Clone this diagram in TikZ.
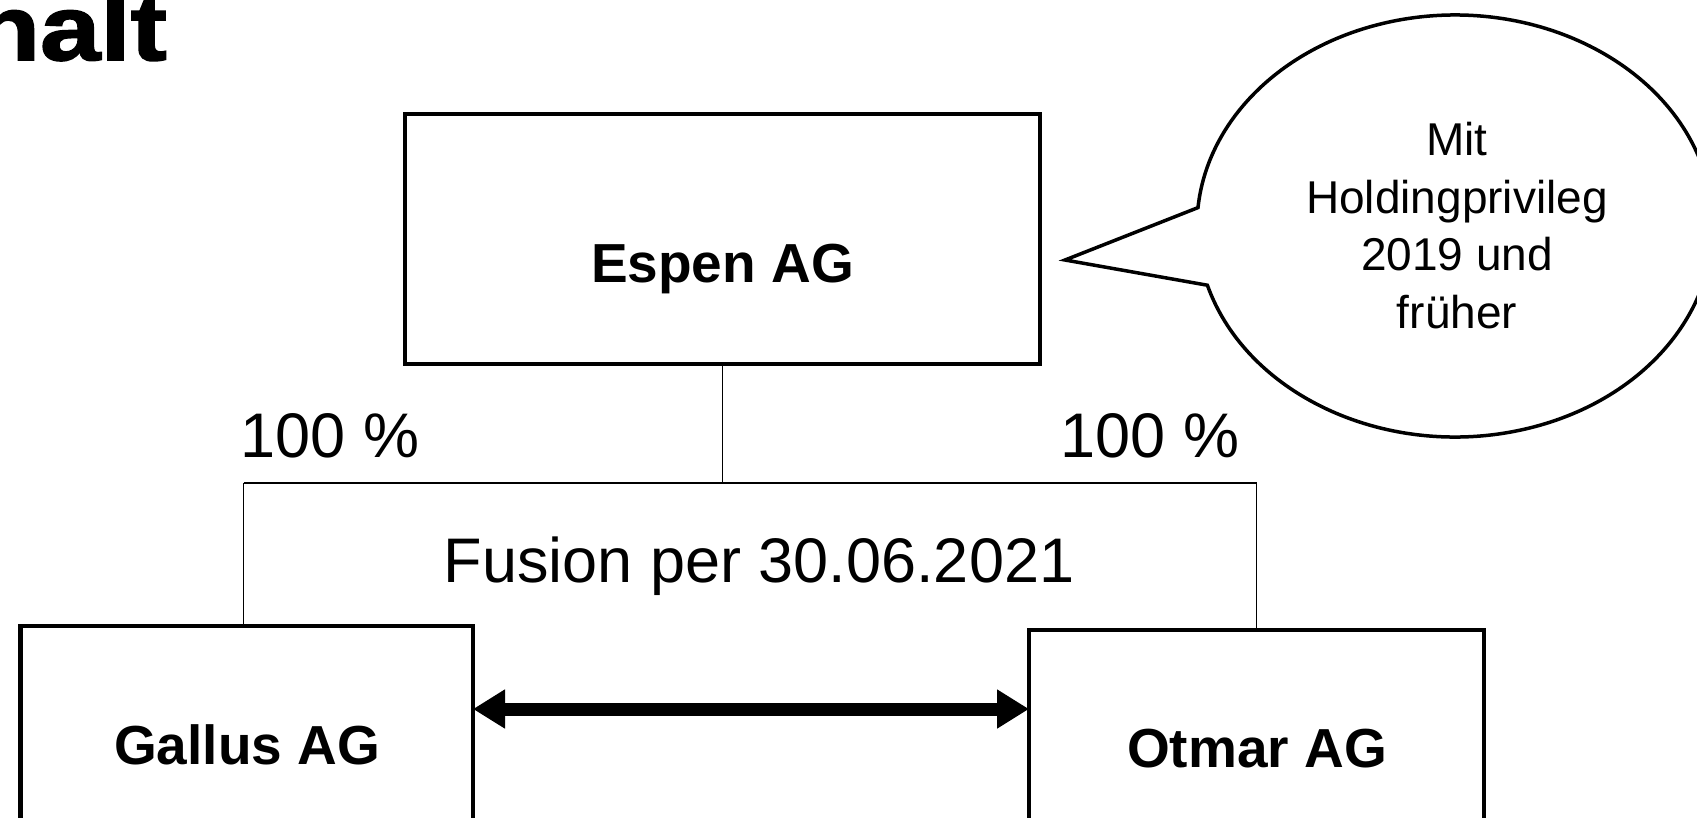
\documentclass[tikz,border=0pt]{standalone}
\usepackage{fontspec}
\setmainfont{Liberation Sans}
\newfontfamily\titlefont{Liberation Sans}[FakeStretch=1.18,FakeBold=2]
\usetikzlibrary{arrows.meta,calc}
\begin{document}
\begin{tikzpicture}[x=1pt,y=-1pt,
  box/.style={draw, rectangle, line width=4.5pt, inner sep=0pt, outer sep=0pt},
  thinline/.style={line width=1.4pt},
  lbl/.style={anchor=base, inner sep=0pt, font=\fontsize{63}{75}\selectfont},
  boxlbl/.style={anchor=base, inner sep=0pt, font=\bfseries\fontsize{55}{66}\selectfont},
  calltext/.style={anchor=base, inner sep=0pt, font=\fontsize{46}{55}\selectfont},
  titlestyle/.style={anchor=base east, inner sep=0pt, font=\titlefont\bfseries\fontsize{92}{100}\selectfont},
  fusionarrow/.style={line width=13pt, {Triangle[length=32pt,width=37pt]}-{Triangle[length=32pt,width=37pt]}},
  callout/.style={draw, line width=3.5pt, line join=miter}
]
\useasboundingbox (0,0) rectangle (1697,817);
\clip (0,0) rectangle (1697,817);
\fill[white] (0,0) rectangle (1697,817);

\node[titlestyle] (title) at (167,60) {halt};

\node[box, minimum width=635pt, minimum height=250pt] (espen) at (722.5,239) {};
\node[boxlbl] (espent) at (722.5,282) {Espen AG};
\node[box, minimum width=452.5pt, minimum height=214pt] (gallus) at (246.75,733) {};
\node[boxlbl] (gallust) at (247,764) {Gallus AG};
\node[box, minimum width=455pt, minimum height=210pt] (otmar) at (1256.5,735) {};
\node[boxlbl] (otmart) at (1257,767) {Otmar AG};

\coordinate (jc) at (722.5,483);
\coordinate (jl) at (243.5,483);
\coordinate (jr) at (1256.5,483);
\coordinate (ay) at (0,709);
\draw[thinline] (espen.south) -- (jc);
\draw[thinline] (jl) -- (jr);
\draw[thinline] (jl) -- (jl |- gallus.north);
\draw[thinline] (jr) -- (otmar.north);
\draw[fusionarrow] (gallus.east |- ay) -- (otmar.west |- ay);

\node[lbl] (pl) at (330,457) {100 \%};
\node[lbl] (pr) at (1150,457) {100 \%};
\node[lbl] (fusion) at (759,582) {Fusion per 30.06.2021};

\coordinate (cc) at (1455,226);
\coordinate (tip) at (1065,260);
\draw[callout] (tip) -- ($(cc)+(163.7:258 and 211)$)
  arc[start angle=163.7, end angle=-175, x radius=258, y radius=211] -- cycle;
\node[calltext] (c1) at (1457,155) {Mit};
\node[calltext] (c2) at (1457,213) {Holdingprivileg};
\node[calltext] (c3) at (1457,270) {2019 und};
\node[calltext] (c4) at (1457,328) {früher};
\end{tikzpicture}
\end{document}
